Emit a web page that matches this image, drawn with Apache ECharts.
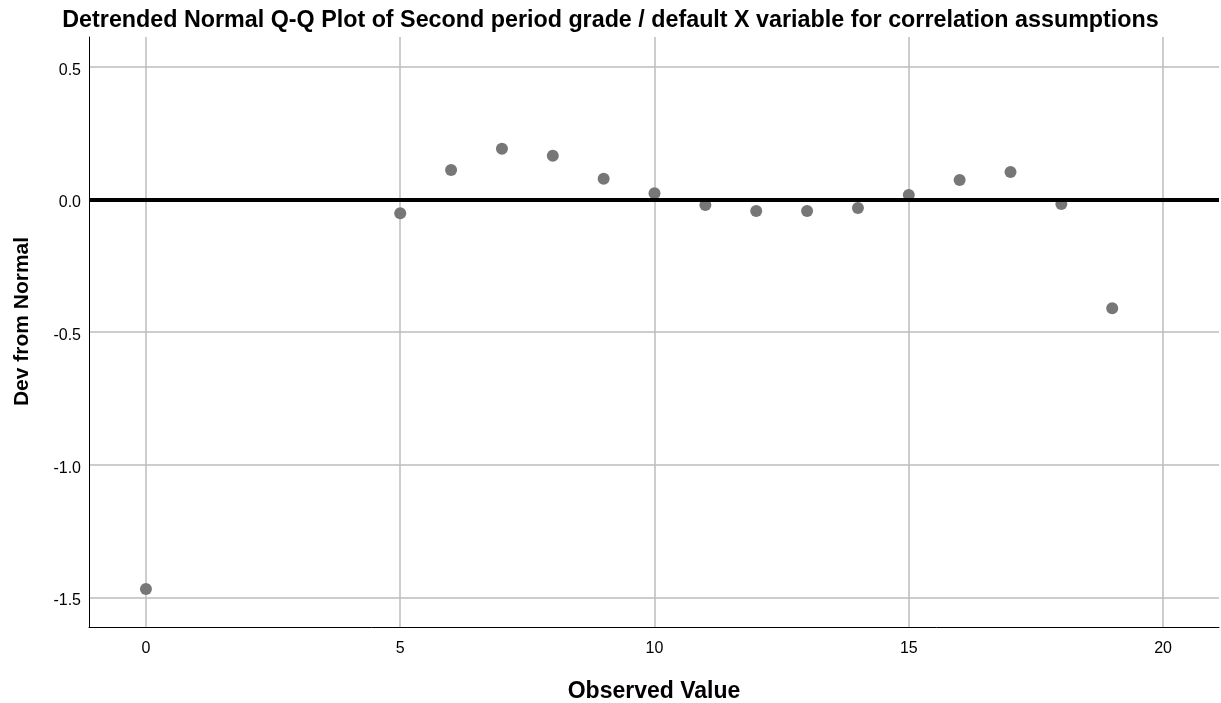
<!DOCTYPE html>
<html><head><meta charset="utf-8">
<script src="https://cdn.jsdelivr.net/npm/echarts@6/dist/echarts.min.js"></script>
<style>html,body{margin:0;padding:0;background:#fff}#c{width:1221px;height:703px}</style>
</head><body><div id="c"></div>
<script>
const observed = [0, 5, 6, 7, 8, 9, 10, 11, 12, 13, 14, 15, 16, 17, 18, 19];
const devFromNormal = [-1.468, -0.052, 0.111, 0.191, 0.165, 0.078, 0.023, -0.021, -0.044, -0.044, -0.032, 0.017, 0.073, 0.103, -0.017, -0.410];
const xTicks = [0, 5, 10, 15, 20];
const yTicks = [0.5, 0.0, -0.5, -1.0, -1.5];

const chart = echarts.init(document.getElementById('c'), null, {renderer: 'canvas'});
const font = 'Arial, "Liberation Sans", sans-serif';
chart.setOption({
  animation: false,
  backgroundColor: '#fff',
  title: {
    text: 'Detrended Normal Q-Q Plot of Second period grade / default X variable for correlation assumptions',
    left: 'center', top: 4,
    textStyle: {fontFamily: font, fontWeight: 'bold', fontSize: 23.3, color: '#000'}
  },
  grid: {left: 89, right: 2, top: 37, bottom: 76, containLabel: false, outerBoundsMode: 'none'},
  xAxis: {
    type: 'value', min: -1.12, max: 21.1,
    name: 'Observed Value', nameLocation: 'middle', nameGap: 53,
    nameTextStyle: {fontFamily: font, fontWeight: 'bold', fontSize: 23, color: '#000'},
    axisLine: {show: true, onZero: false, lineStyle: {color: '#000', width: 1}},
    axisTick: {show: false, customValues: xTicks},
    axisLabel: {customValues: xTicks, margin: 14, fontFamily: font, fontSize: 16, color: '#000'},
    splitLine: {show: true, lineStyle: {color: '#bdbdbd', width: 1.5}}
  },
  yAxis: {
    type: 'value', min: -1.611, max: 0.612,
    name: 'Dev from Normal', nameLocation: 'middle', nameGap: 56, nameRotate: 90,
    nameTextStyle: {fontFamily: font, fontWeight: 'bold', fontSize: 21, color: '#000', padding: [0, 0, 0, 21]},
    axisLine: {show: true, onZero: false, lineStyle: {color: '#000', width: 1}},
    axisTick: {show: false, customValues: yTicks},
    axisLabel: {customValues: yTicks, margin: 8, fontFamily: font, fontSize: 16, color: '#000',
      verticalAlign: 'top', lineHeight: 7, formatter: v => v.toFixed(1)},
    splitLine: {show: true, lineStyle: {color: '#bdbdbd', width: 1.5}}
  },
  series: [{
    type: 'scatter',
    data: observed.map((x, i) => [x, devFromNormal[i]]),
    symbolSize: 12,
    itemStyle: {color: '#777777', opacity: 1},
    z: 3,
    markLine: {
      silent: true, symbol: 'none', label: {show: false},
      lineStyle: {color: '#000', width: 4, type: 'solid'},
      data: [{yAxis: 0}],
      z: 4
    }
  }]
});
</script></body></html>
